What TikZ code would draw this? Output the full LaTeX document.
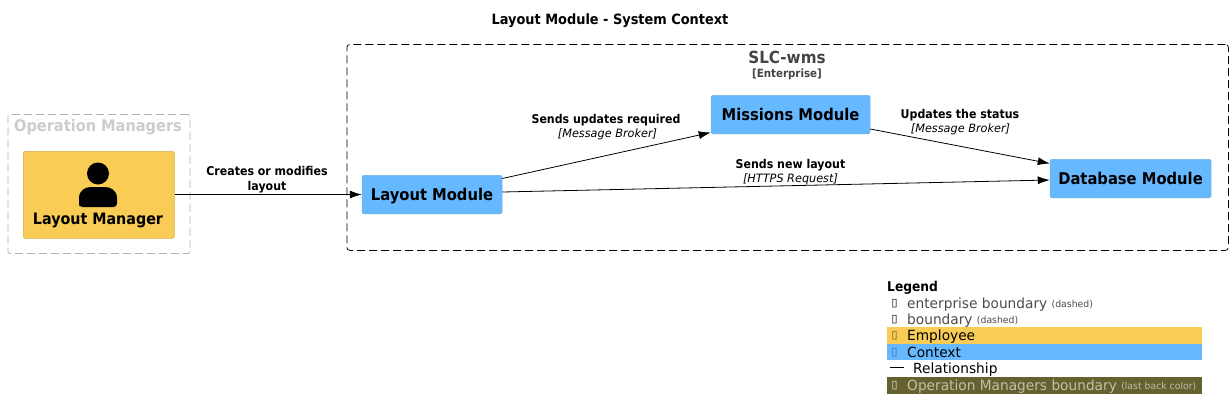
\documentclass[tikz,border=0pt]{standalone}
\usepackage{fontspec}
\setmainfont[FakeStretch=0.98,BoldFont={DejaVu Sans Bold},BoldFeatures={FakeStretch=0.91}]{DejaVu Sans}
\usetikzlibrary{arrows.meta}
\definecolor{empyellow}{HTML}{F9CC55}
\definecolor{ctxblue}{HTML}{66B9FF}
\definecolor{olive}{HTML}{65622F}
\newcommand{\fs}[1]{\fontsize{#1}{#1}\selectfont}
\tikzset{
  x=1pt,y=-1pt,
  ctxbox/.style={draw=ctxblue!85!black!80,line width=0.5pt,fill=ctxblue,rounded corners=1.5pt,minimum height=38.5pt,inner sep=0pt,text=black,text height=12.5pt,text depth=0pt,font=\fs{16.2}\bfseries},
  empbox/.style={draw=empyellow!85!black,line width=0.5pt,fill=empyellow,rounded corners=1.5pt,inner sep=0pt},
  rel/.style={draw=black,line width=0.8pt,-{Latex[length=12pt,width=8pt]}},
  lab/.style={inner sep=0pt,align=center,text=black,font=\fontsize{12.1}{15}\selectfont\bfseries},
  tech/.style={inner sep=0pt,text=black,font=\fs{11.5}\itshape},
  legtext/.style={anchor=west,inner sep=0pt,font=\fs{14}},
  legsmall/.style={anchor=west,inner sep=0pt,font=\fs{9.5}},
  legicon/.style={anchor=center,inner sep=0pt,font=\fs{11}},
  band/.style={anchor=north west,inner sep=0pt,minimum width=315pt,minimum height=16.5pt},
}
\begin{document}
\begin{tikzpicture}
\useasboundingbox (0,0) rectangle (1232,418);
\fill[white] (0,0) rectangle (1232,418);
% title
\node[inner sep=0pt,font=\fs{14.2}\bfseries] (title) at (610,20.5) {Layout Module - System Context};
% boundaries
\node[draw=black,dash pattern=on 8pt off 4pt,line width=0.75pt,rounded corners=3pt,minimum width=881.5pt,minimum height=206pt,anchor=north west,inner sep=0pt] (ent) at (346.5,44) {};
\node[inner sep=0pt,text=black!73,font=\fs{16.7}\bfseries] (entname) at (787,57) {SLC-wms};
\node[inner sep=0pt,text=black!73,font=\fs{11.3}\bfseries] (enttype) at (787,74) {[Enterprise]};
\node[draw=black!30,dash pattern=on 8pt off 4pt,line width=0.75pt,rounded corners=2pt,minimum width=182pt,minimum height=139pt,anchor=north west,inner sep=0pt] (ops) at (7.5,114) {};
\node[inner sep=0pt,text=black!20,font=\fs{16}\bfseries] (opsname) at (98,127.5) {Operation Managers};
% person
\node[empbox,minimum width=151pt,minimum height=87pt,anchor=north west] (mgr) at (23,151) {};
\fill[black] (98,173.5) circle (11);
\fill[black] (79,207) -- (79,198) .. controls (79,190) and (86,187) .. (91,187) -- (105,187) .. controls (110,187) and (117,190) .. (117,198) -- (117,203) .. controls (117,206) and (116,207) .. (113,207) -- (83,207) .. controls (80,207) and (79,206) .. (79,203) -- cycle;
\node[inner sep=0pt,font=\fs{15.7}\bfseries] (mgrname) at (98,220) {Layout Manager};
% modules
\node[ctxbox,minimum width=140pt] (lm) at (432,194.5) {Layout Module};
\node[ctxbox,minimum width=159pt] (mm) at (790.5,114.5) {Missions Module};
\node[ctxbox,minimum width=161pt] (db) at (1130.5,178.5) {Database Module};
% connectors
\draw[rel] (mgr.east |- lm.west) -- (lm.west);
\draw[rel] ([yshift=16pt]lm.east) -- ([yshift=1.5pt]mm.south west);
\draw[rel] ([yshift=2.5pt]lm.east) -- ([yshift=-1.5pt]db.west);
\draw[rel] ([yshift=-14.5pt]mm.east) -- ([yshift=-4.5pt]db.north west);
% connector labels
\node[lab] (l1) at (267,180) {Creates or modifies\\layout};
\node[lab] (l2) at (606,120) {Sends updates required};
\node[tech] (l2t) at (607.5,134) {[Message Broker]};
\node[lab] (l3) at (960,115) {Updates the status};
\node[tech] (l3t) at (960.5,129) {[Message Broker]};
\node[lab] (l4) at (790.5,165) {Sends new layout};
\node[tech] (l4t) at (790.5,179) {[HTTPS Request]};
% legend
\node[inner sep=0pt,anchor=west,font=\fs{13.5}\bfseries] (legtitle) at (887,287.5) {Legend};
\node[legicon] (i1) at (894.5,304) {▯};
\node[legtext,text=black!70] (t1) at (907,304.5) {enterprise boundary};
\node[legsmall,text=black!70] (s1) at (t1.east) [xshift=4pt,yshift=-0.5pt] {(dashed)};
\node[legicon] (i2) at (894.5,320) {▯};
\node[legtext,text=black!70] (t2) at (907,320.5) {boundary};
\node[legsmall,text=black!70] (s2) at (t2.east) [xshift=4pt,yshift=-0.5pt] {(dashed)};
\node[band,fill=empyellow] (b1) at (887,327) {};
\node[legicon,text=black!60!empyellow] (i3) at (894.5,336) {▯};
\node[legtext] (t3) at (907,336.5) {Employee};
\node[band,fill=ctxblue] (b2) at (887,343.5) {};
\node[legicon,text=black!40!ctxblue] (i4) at (894.5,352.5) {▯};
\node[legtext] (t4) at (907,352.5) {Context};
\node[legtext] (t5) at (913,369.5) {Relationship};
\coordinate (r1) at (890,367.5);
\coordinate (r2) at (904,367.5);
\draw[black,line width=0.9pt] (r1) -- (r2);
\node[band,fill=olive] (b3) at (887,377) {};
\node[legicon,text=white!85!olive] (i5) at (894.5,386) {▯};
\node[legtext,text=white!60!olive] (t6) at (907,386.5) {Operation Managers boundary};
\node[legsmall,text=white!60!olive] (s6) at (t6.east) [xshift=4pt,yshift=-0.5pt] {(last back color)};
\end{tikzpicture}
\end{document}
